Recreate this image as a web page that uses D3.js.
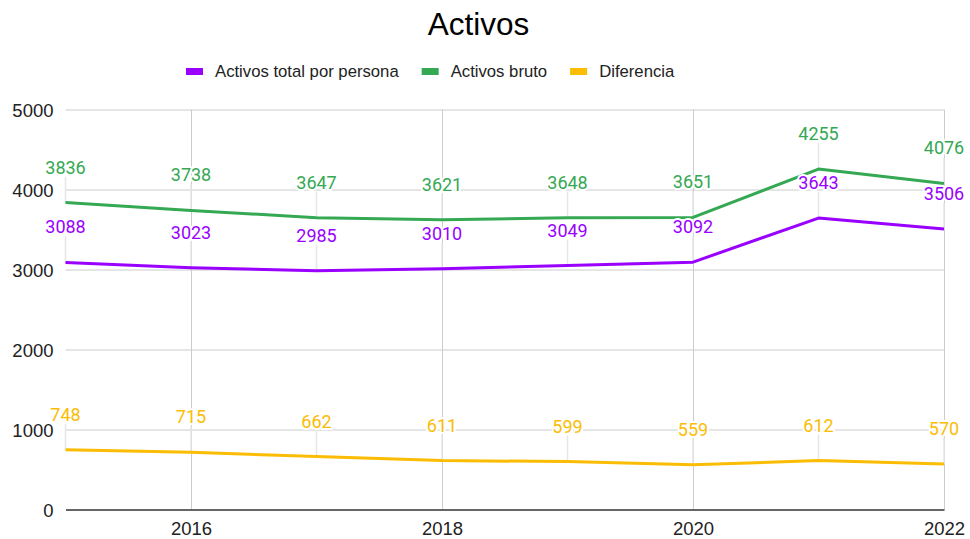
<!DOCTYPE html>
<html><head><meta charset="utf-8">
<script src="https://cdn.jsdelivr.net/npm/d3@7/dist/d3.min.js"></script>
<style>body{margin:0;background:#fff}svg{display:block}</style>
</head><body>
<svg id="c" width="970" height="539"></svg>
<script>
const years = [2015, 2016, 2017, 2018, 2019, 2020, 2021, 2022];
const totalPorPersona = [3088, 3023, 2985, 3010, 3049, 3092, 3643, 3506];
const activosBruto = [3836, 3738, 3647, 3621, 3648, 3651, 4255, 4076];
const diferencia = [748, 715, 662, 611, 599, 559, 612, 570];
const seriesNames = ["Activos total por persona", "Activos bruto", "Diferencia"];
const seriesColors = ["#9900ff", "#34a853", "#fbbc04"];
const yTicks = [0, 1000, 2000, 3000, 4000, 5000];
const xTicks = [2016, 2018, 2020, 2022];
const title = "Activos";

const series = [totalPorPersona, activosBruto, diferencia].map((v, i) => ({name: seriesNames[i], color: seriesColors[i], values: v}));

const svg = d3.select("#c");
const x = d3.scaleLinear().domain([2015, 2022]).range([65.5, 944]);
const y = d3.scaleLinear().domain([0, 5000]).range([509.5, 109.5]);
const axisFont = "'Liberation Sans', Arial, sans-serif";
const labelFont = "Roboto, 'Liberation Sans', sans-serif";

svg.append("text").attr("x", 478.5).attr("y", 35).attr("text-anchor", "middle")
  .attr("font-family", axisFont).attr("font-size", 31.5).attr("fill", "#000").text(title);

// gridlines
const g = svg.append("g");
g.append("g")
  .call(d3.axisLeft(y).tickValues(yTicks.filter(d => d > 0)).tickSize(-(x.range()[1] - x.range()[0])).tickFormat(""))
  .attr("transform", `translate(${x.range()[0]},0)`)
  .call(s => { s.select(".domain").remove(); s.selectAll("line").attr("stroke", "#cccccc"); });
g.append("g").attr("transform", `translate(0,${y(5000)})`)
  .call(d3.axisBottom(x).tickValues(xTicks).tickSize(y(0) - y(5000)).tickFormat(""))
  .call(s => { s.select(".domain").remove(); s.selectAll("line").attr("stroke", "#cccccc"); });

// y labels
const ya = svg.append("g").attr("transform", `translate(${x.range()[0]},0)`)
  .call(d3.axisLeft(y).tickValues(yTicks).tickSize(0).tickPadding(12).tickFormat(d3.format("d")));
ya.select(".domain").remove();
ya.selectAll("text").attr("font-family", axisFont).attr("font-size", 18.5).attr("fill", "#222").attr("dy", "0.36em");

// x labels
const xa = svg.append("g").attr("transform", `translate(0,${y(0)})`)
  .call(d3.axisBottom(x).tickValues(xTicks).tickSize(0).tickPadding(12).tickFormat(d3.format("d")));
xa.select(".domain").attr("stroke", "#333").attr("stroke-width", 1.5);
xa.selectAll("text").attr("font-family", axisFont).attr("font-size", 18.5).attr("fill", "#222").attr("dy", "0.72em");

// leader lines
series.forEach(s => {
  svg.append("g").selectAll("line").data(s.values).join("line")
    .attr("x1", (d, i) => x(years[i])).attr("x2", (d, i) => x(years[i]))
    .attr("y1", d => y(d) - 26).attr("y2", d => y(d))
    .attr("stroke", "#e6e6e6").attr("stroke-width", 1.5);
});

// lines
const line = d3.line().x((d, i) => x(years[i])).y(d => y(d));
series.forEach(s => {
  svg.append("path").datum(s.values).attr("d", line)
    .attr("fill", "none").attr("stroke", s.color).attr("stroke-width", 3).attr("stroke-linejoin", "round");
});

// labels
series.forEach(s => {
  svg.append("g").selectAll("text").data(s.values).join("text")
    .attr("x", (d, i) => x(years[i])).attr("y", d => y(d) - 29)
    .attr("text-anchor", "middle").attr("font-family", labelFont).attr("font-size", 18)
    .attr("fill", s.color).attr("stroke", "#fff").attr("stroke-width", 4).attr("paint-order", "stroke")
    .attr("stroke-linejoin", "round").text(d => d);
});

// legend
const leg = svg.append("g");
let lx = 186;
series.forEach(s => {
  leg.append("rect").attr("x", lx).attr("y", 68).attr("width", 17).attr("height", 7).attr("fill", s.color);
  const t = leg.append("text").attr("x", lx + 29).attr("y", 77).attr("font-family", axisFont)
    .attr("font-size", 16.7).attr("fill", "#222").text(s.name);
  lx = lx + 29 + t.node().getComputedTextLength() + 23;
});
</script>
</body></html>
